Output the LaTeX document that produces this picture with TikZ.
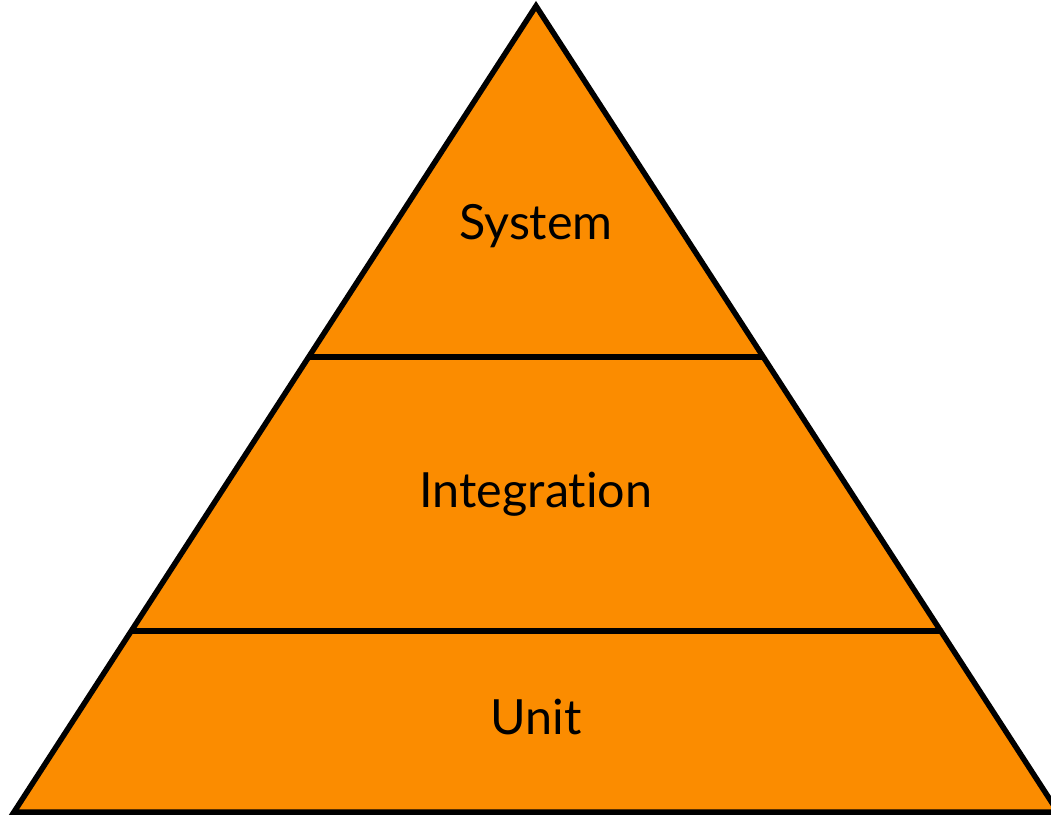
\documentclass[tikz,border=0pt]{standalone}
\usepackage{fontspec}
\setmainfont[Ligatures={NoCommon,NoRequired,NoContextual,NoRare}]{Lato}
\usetikzlibrary{calc}
\definecolor{pyrorange}{RGB}{251,140,0}
\tikzset{
  edge/.style={draw=black, line width=5.5pt},
  level/.style={font=\fontsize{48.5}{58}\selectfont, text=black, inner sep=0pt, anchor=base}
}
\begin{document}
\begin{tikzpicture}[x=1pt,y=-1pt]
\useasboundingbox (0,0) rectangle (1051,816);
\coordinate (apex) at (536,6);
\coordinate (bl) at (14,812);
\coordinate (br) at (1058,812);
\fill[pyrorange] (apex) -- (bl) -- (br) -- cycle;
\coordinate (l1) at ($(apex)!0.4355!(bl)$);
\coordinate (r1) at ($(apex)!0.4355!(br)$);
\coordinate (l2) at ($(apex)!0.7754!(bl)$);
\coordinate (r2) at ($(apex)!0.7754!(br)$);
\draw[edge] (l1) -- (r1);
\draw[edge] (l2) -- (r2);
\draw[edge, line join=miter] (apex) -- (bl) -- (br) -- cycle;
\node[level] (sys) at (536,239) {System};
\node[level] (int) at (536,507) {Integration};
\node[level] (unit) at (536,734) {Unit};
\end{tikzpicture}
\end{document}
